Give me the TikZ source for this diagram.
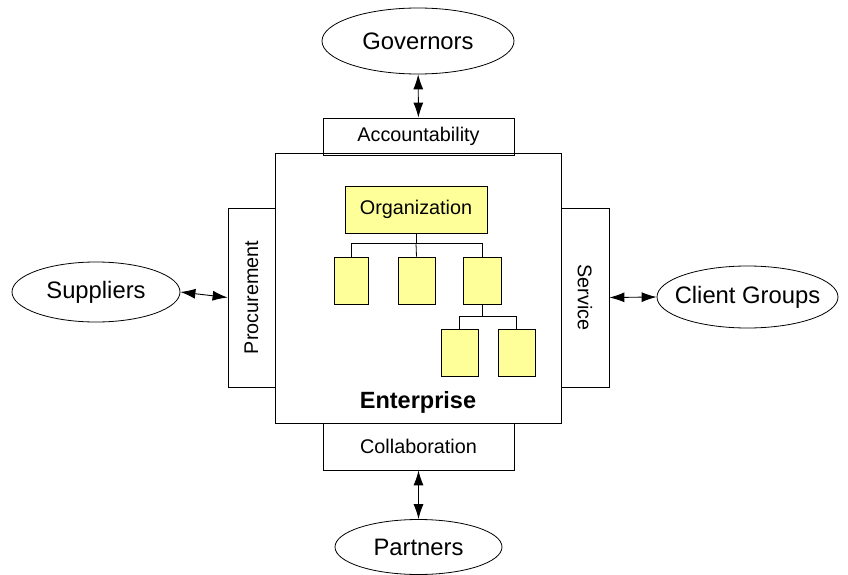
\documentclass[tikz,border=0pt]{standalone}
\usepackage{fontspec}
\setmainfont{Liberation Sans}
\usepackage{graphicx}
\usetikzlibrary{positioning,shapes.geometric,arrows.meta}
\definecolor{unitfill}{RGB}{255,255,153}
\tikzset{party/.style={draw,ellipse,inner sep=0pt,font=\fontsize{23.8}{26}\selectfont}}
\tikzset{gate/.style={draw,rectangle,inner sep=0pt,font=\fontsize{19.8}{22}\selectfont}}
\tikzset{unit/.style={draw,rectangle,fill=unitfill,inner sep=0pt,minimum width=36pt,minimum height=47pt}}
\tikzset{link/.style={{Latex[length=15pt,width=10pt]}-{Latex[length=15pt,width=10pt]},line width=0.9pt}}

\begin{document}
\begin{tikzpicture}[x=1pt,y=-1pt,line width=0.8pt]
\useasboundingbox (0,0) rectangle (848,575);
% the enterprise and its four faces
\node[draw,rectangle,minimum width=286pt,minimum height=270pt] (ent) at (418,288) {};
\node[font=\bfseries\fontsize{23.5}{26}\selectfont] (entlbl) at (418,402) {Enterprise};
\node[gate,minimum width=191pt,minimum height=37pt] (acc) at (418.5,136.5) {Accountability};
\node[gate,minimum width=191pt,minimum height=47pt] (col) at (418.5,446.5) {Collaboration};
\node[gate,minimum width=47pt,minimum height=179pt] (proc) at (251.5,297.5) {\rotatebox{90}{Procurement}};
\node[gate,minimum width=48pt,minimum height=179pt] (serv) at (585,297.5) {\rotatebox{-90}{Service}};

% outside parties
\node[party,minimum width=192pt,minimum height=66pt] (gov) at (418,41) {Governors};
\node[party,minimum width=167pt,minimum height=55pt] (part) at (418.5,547) {Partners};
\node[party,minimum width=168pt,minimum height=60pt] (sup) at (96,292) {Suppliers};
\node[party,inner xsep=-12pt,minimum width=181pt,minimum height=62pt] (cli) at (747.5,297) {Client Groups};

\draw[link] (gov) -- (acc);
\draw[link] (col) -- (part);
\draw[link] (sup.east) -- (proc.west);
\draw[link] (serv.east) -- (cli.west);

% organization chart
\node[unit,minimum width=142pt,minimum height=47pt,font=\fontsize{19.8}{22}\selectfont] (org) at (416,209.5) {Organization};
\node[unit,minimum width=34pt] (u1) at (351,280.5) {};
\node[unit,minimum width=37pt] (u2) at (416.5,280.5) {};
\node[unit,minimum width=38pt] (u3) at (482,280.5) {};
\node[unit,minimum width=37pt] (u4) at (459.5,352.5) {};
\node[unit,minimum width=37pt] (u5) at (516.5,352.5) {};

\draw (org.south) -- ++(0,10) coordinate (bus1);
\draw (bus1) -| (u1.north);
\draw (bus1) -| (u3.north);
\draw (bus1) -- (u2.north);
\draw (u3.south) -- ++(0,12) coordinate (bus2);
\draw (bus2) -| (u4.north);
\draw (bus2) -| (u5.north);
\end{tikzpicture}
\end{document}
